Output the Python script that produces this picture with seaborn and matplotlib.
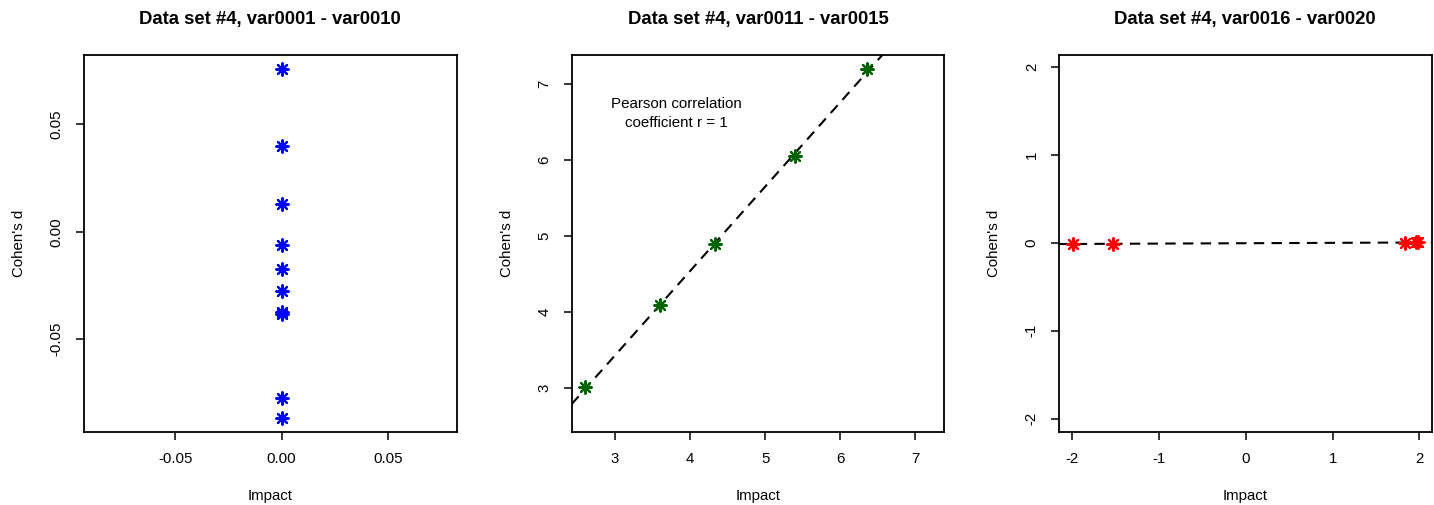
import numpy as np
import pandas as pd
import matplotlib
matplotlib.use("Agg")
import matplotlib.pyplot as plt
import seaborn as sns

sns.set_style("white")
plt.rcParams['font.family'] = ['Liberation Sans', 'DejaVu Sans']
plt.rcParams['axes.unicode_minus'] = False
plt.rcParams['text.color'] = 'black'
plt.rcParams['axes.labelcolor'] = 'black'
plt.rcParams['xtick.color'] = 'black'
plt.rcParams['ytick.color'] = 'black'

# ---- data ----
titles = ["Data set #4, var0001 - var0010",
          "Data set #4, var0011 - var0015",
          "Data set #4, var0016 - var0020"]

impact1 = [0.0, 0.0, 0.0, 0.0, 0.0, 0.0, 0.0, 0.0, 0.0, 0.0]
cohen1 = [0.0758, 0.0401, 0.0130, -0.0062, -0.0171, -0.0276, -0.0375, -0.0380, -0.0772, -0.0865]

impact2 = [2.61, 3.60, 4.34, 5.40, 6.36]
cohen2 = [3.02, 4.09, 4.89, 6.06, 7.20]

impact3 = [-1.99, -1.53, 1.83, 1.96, 1.98]
cohen3 = [-0.012, -0.010, 0.003, 0.005, 0.006]

colors = ["#0000FF", "#006400", "#FF0000"]
xticks1 = [-0.05, 0.00, 0.05]
yticks1 = [-0.05, 0.00, 0.05]
xticks2 = [3, 4, 5, 6, 7]
yticks2 = [3, 4, 5, 6, 7]
xticks3 = [-2, -1, 0, 1, 2]
yticks3 = [-2, -1, 0, 1, 2]
annot2 = "Pearson correlation\ncoefficient r = 1"

W, H = 1434, 505
fig = plt.figure(figsize=(W / 100, H / 100), dpi=100)
lefts = [84, 571.7, 1059]
aw, top, bot = 372.5, 55, 431.7

panels = [
    (impact1, cohen1, xticks1, yticks1, ["-0.05", "0.00", "0.05"], ["-0.05", "0.00", "0.05"], False),
    (impact2, cohen2, xticks2, yticks2, None, None, True),
    (impact3, cohen3, xticks3, yticks3, None, None, True),
]

for i, (xv, yv, xt, yt, xtl, ytl, fit) in enumerate(panels):
    ax = fig.add_axes([lefts[i] / W, (H - bot) / H, aw / W, (bot - top) / H])
    df = pd.DataFrame({"Impact": xv, "Cohen's d": yv})
    allv = np.concatenate([df["Impact"].values, df["Cohen's d"].values])
    lo, hi = allv.min(), allv.max()
    pad = 0.04 * (hi - lo)
    lim = (lo - pad, hi + pad)
    if fit:
        m, b = np.polyfit(df["Impact"], df["Cohen's d"], 1)
        ax.axline((0, b), slope=m, color="black", lw=1.5, dashes=(5, 3.5), zorder=1)
    sns.scatterplot(data=df, x="Impact", y="Cohen's d", ax=ax, marker=(8, 2, 0),
                    s=80, color=colors[i], edgecolor=colors[i], linewidth=1.6, zorder=3)
    ax.set_xlim(lim)
    ax.set_ylim(lim)
    ax.set_xticks(xt)
    ax.set_yticks(yt)
    if xtl:
        ax.set_xticklabels(xtl)
        ax.set_yticklabels(ytl)
    ax.tick_params(axis="both", direction="out", length=5.5, width=1.1, labelsize=10.8,
                   color="black", labelcolor="black", bottom=True, left=True)
    ax.tick_params(axis="x", pad=9)
    ax.tick_params(axis="y", pad=9)
    for lab in ax.get_yticklabels():
        lab.set_rotation(90)
        lab.set_va("center")
    ax.set_xlabel("Impact", fontsize=10.8, labelpad=17)
    ax.set_ylabel("Cohen's d", fontsize=10.8, labelpad=17)
    ax.set_title(titles[i], fontsize=13.3, fontweight="bold", pad=22)
    for sp in ax.spines.values():
        sp.set_visible(True)
        sp.set_color("black")
        sp.set_linewidth(1.3)
    if i == 1:
        ax.text(0.28, 0.845, annot2, transform=ax.transAxes, ha="center", va="center",
                fontsize=10.9, linespacing=1.45)

fig.savefig("out.png", dpi=100)
